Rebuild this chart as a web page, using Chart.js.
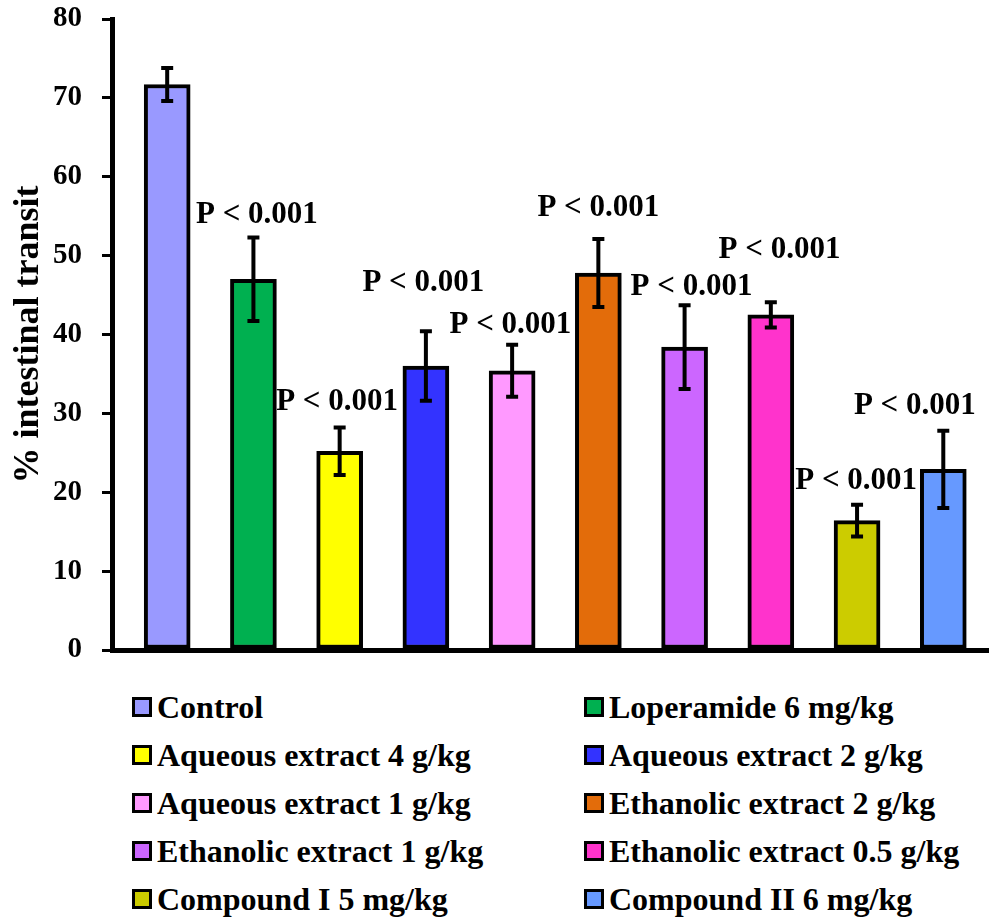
<!DOCTYPE html>
<html><head><meta charset="utf-8">
<script src="https://cdn.jsdelivr.net/npm/chart.js@4"></script>
<style>
html,body{margin:0;padding:0;background:#fff;}
#wrap{position:relative;width:989px;height:917px;overflow:hidden;}
#c{position:absolute;left:0;top:0;}
#legend{position:absolute;left:132px;top:683px;display:grid;grid-template-columns:452px 405px;font:bold 32px "Liberation Serif","Times New Roman",serif;line-height:48px;color:#000;}
.item{display:flex;align-items:center;white-space:nowrap;height:48px;}
.box{width:14px;height:14px;border:3px solid #000;margin-right:5px;flex:none;}
</style></head>
<body>
<div id="wrap">
<canvas id="c" width="989" height="680"></canvas>
<div id="legend"></div>
</div>
<script>
// ---- data ----
const categories = ["Control","Loperamide 6 mg/kg","Aqueous extract 4 g/kg","Aqueous extract 2 g/kg","Aqueous extract 1 g/kg","Ethanolic extract 2 g/kg","Ethanolic extract 1 g/kg","Ethanolic extract 0.5 g/kg","Compound I 5 mg/kg","Compound II 6 mg/kg"];
const means  = [71.7, 47.0, 25.2, 36.0, 35.4, 47.8, 38.4, 42.5, 16.4, 22.9];
const errors = [2.1, 5.3, 3.0, 4.4, 3.3, 4.3, 5.3, 1.6, 2.0, 4.9];
const yTicks = [0,10,20,30,40,50,60,70,80];
const pLabels = ["P < 0.001","P < 0.001","P < 0.001","P < 0.001","P < 0.001","P < 0.001","P < 0.001","P < 0.001","P < 0.001"];
// anchors of the P labels, in axis units (category position, value)
const pAnchorX = [1.04, 1.97, 2.97, 3.98, 5.0, 6.08, 7.10, 7.99, 8.67];
const pAnchorY = [55.1, 31.4, 46.5, 41.2, 56.0, 46.0, 50.7, 21.4, 30.9];
// ---- styles ----
const colors = ["#9999FF","#00B050","#FFFF00","#3333FF","#FF99FF","#E36C0A","#CC66FF","#FF33CC","#CCCC00","#6699FF"];
const FONT = "Liberation Serif";

const errorBars = {
  id:'errorBars',
  afterDatasetsDraw(chart){
    const ctx = chart.ctx, y = chart.scales.y;
    const meta = chart.getDatasetMeta(0);
    ctx.save();
    ctx.strokeStyle = '#000'; ctx.lineWidth = 4; ctx.lineCap = 'butt';
    meta.data.forEach((bar,i)=>{
      const x = bar.x;
      const t = y.getPixelForValue(means[i]+errors[i]);
      const b = y.getPixelForValue(means[i]-errors[i]);
      ctx.beginPath();
      ctx.moveTo(x,t); ctx.lineTo(x,b);
      ctx.moveTo(x-6,t); ctx.lineTo(x+6,t);
      ctx.moveTo(x-6,b); ctx.lineTo(x+6,b);
      ctx.stroke();
    });
    ctx.restore();
  }
};
const pText = {
  id:'pText',
  afterDatasetsDraw(chart){
    const ctx = chart.ctx, xs = chart.scales.x, ys = chart.scales.y;
    ctx.save();
    ctx.fillStyle = '#000';
    ctx.font = 'bold 31px "'+FONT+'"';
    ctx.textAlign = 'center'; ctx.textBaseline = 'middle';
    pLabels.forEach((t,i)=>{
      ctx.fillText(t, xs.getPixelForValue(pAnchorX[i]), ys.getPixelForValue(pAnchorY[i]));
    });
    ctx.restore();
  }
};

new Chart(document.getElementById('c'), {
  type:'bar',
  data:{
    datasets:[{
      data: means.map((v,i)=>({x:i,y:v})),
      backgroundColor: colors,
      borderColor:'#000',
      borderWidth:4,
      borderSkipped:false,
      barThickness:46
    }]
  },
  options:{
    responsive:false, animation:false, devicePixelRatio:1,
    layout:{padding:{top:19,right:0,bottom:30,left:0}},
    plugins:{legend:{display:false}, tooltip:{enabled:false}},
    scales:{
      x:{type:'linear', min:-0.64, max:9.53, offset:false,
         ticks:{display:false},
         grid:{drawOnChartArea:false, drawTicks:false},
         border:{display:true,color:'#000',width:5},
         afterFit(s){ s.height = 0; s.paddingLeft = 0; s.paddingRight = 0; }},
      y:{min:0,max:80,
         afterBuildTicks(s){ s.ticks = yTicks.map(v=>({value:v})); },
         ticks:{color:'#000', font:{family:FONT,size:29,weight:'bold'}, padding:20},
         grid:{drawOnChartArea:false, drawTicks:true, tickLength:10, color:'#000', lineWidth:3},
         border:{display:true,color:'#000',width:5},
         title:{display:true,text:'% intestinal transit',color:'#000',font:{family:FONT,size:36,weight:'bold'},padding:{top:7,bottom:0}},
         afterFit(s){ s.width = 112; s.paddingTop = 0; s.paddingBottom = 0; }
      }
    }
  },
  plugins:[errorBars,pText]
});

const lg = document.getElementById('legend');
categories.forEach((c,i)=>{
  const d = document.createElement('div'); d.className='item';
  const b = document.createElement('span'); b.className='box'; b.style.background = colors[i];
  const t = document.createElement('span'); t.textContent = c;
  d.appendChild(b); d.appendChild(t); lg.appendChild(d);
});
</script>
</body></html>
